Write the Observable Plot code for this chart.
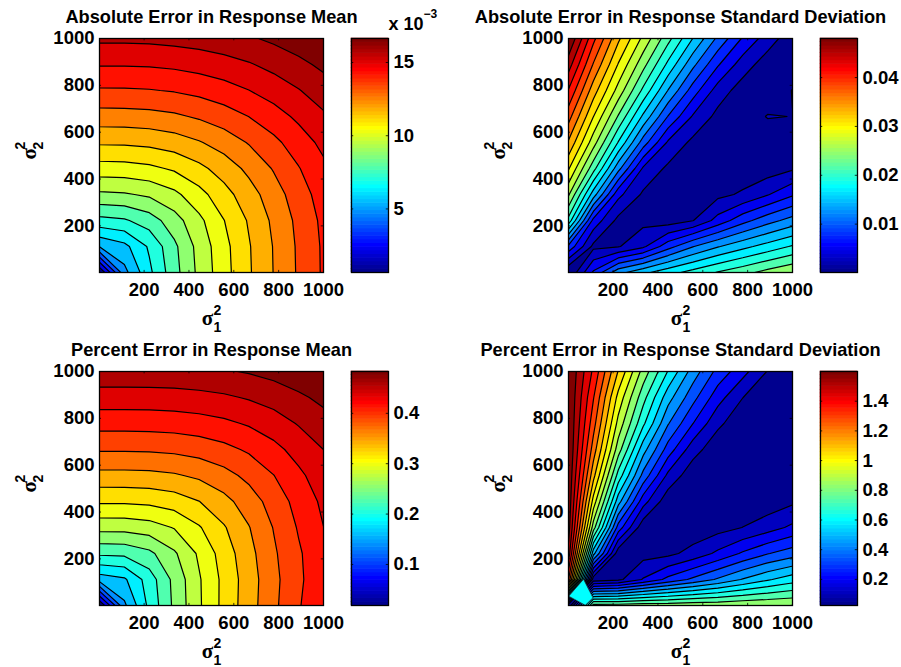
<!DOCTYPE html>
<html><head><meta charset="utf-8">
<script src="https://cdn.jsdelivr.net/npm/d3@7"></script>
<script src="https://cdn.jsdelivr.net/npm/@observablehq/plot@0.6"></script>
<style>
html,body{margin:0;padding:0;background:#fff}
#c{position:relative;width:901px;height:667px;overflow:hidden}
#c svg{position:absolute;overflow:visible;background:transparent}
</style></head><body><div id="c"></div>
<script>
const axisTicks = [200,400,600,800,1000];
const titles = ["Absolute Error in Response Mean","Absolute Error in Response Standard Deviation","Percent Error in Response Mean","Percent Error in Response Standard Deviation"];
// rows go from sigma2^2 = 1 up to 1000 in 10 steps, columns from sigma1^2 = 1 to 1000 in 10 steps
const absMean = [
[0.66,4.4,6.07,7.55,8.85,9.95,10.95,11.87,12.75,13.55],
[4.7,5.22,6.37,7.67,8.93,10.0,10.98,11.89,12.77,13.56],
[6.8,6.95,7.45,8.3,9.25,10.23,11.13,12.01,12.85,13.63],
[8.5,8.56,8.78,9.25,9.97,10.75,11.5,12.28,13.07,13.8],
[9.9,9.93,10.07,10.36,10.84,11.4,12.04,12.71,13.4,14.07],
[11.15,11.17,11.26,11.45,11.78,12.2,12.7,13.25,13.85,14.45],
[12.3,12.32,12.37,12.51,12.75,13.06,13.45,13.9,14.41,14.92],
[13.35,13.36,13.4,13.5,13.67,13.92,14.23,14.6,15.0,15.45],
[14.3,14.3,14.33,14.41,14.55,14.73,14.97,15.28,15.63,16.02],
[15.2,15.2,15.23,15.3,15.4,15.55,15.74,16.0,16.3,16.64]];
const absStd = [
[.0001,.0073,.013,.0155,.0175,.0192,.0208,.0222,.0237,.025],
[.0086,.0018,.0022,.0042,.0083,.0114,.0136,.0154,.017,.0186],
[.0198,.0062,.0017,.0017,.0012,.0023,.0055,.0084,.0106,.0124],
[.0255,.0149,.0053,.002,.0012,.0012,.0018,.0027,.0045,.0066],
[.03,.0215,.0123,.0043,.0019,.0012,.001,.001,.0012,.0021],
[.034,.0262,.0182,.0104,.0043,.0018,.0012,.001,.001,.0012],
[.0375,.0298,.0227,.0156,.0091,.0044,.0017,.0012,.0025,.00235],
[.041,.0331,.0266,.0201,.0137,.0081,.0036,.0013,.001,.00245],
[.0445,.0364,.0296,.0237,.0178,.0121,.0072,.0035,.0012,.0008],
[.048,.0395,.0325,.0269,.0214,.016,.011,.0067,.0035,.001]];
const pctMean = [
[.0185,.13,.1873,.2323,.2707,.3039,.3335,.3618,.388,.41],
[.145,.1542,.1924,.234,.2715,.3035,.3325,.3605,.3855,.4075],
[.2086,.2101,.2219,.2472,.2777,.3079,.336,.3634,.387,.408],
[.2587,.2591,.2635,.2753,.295,.3182,.3425,.368,.3923,.4131],
[.3005,.3007,.3027,.3086,.32,.3364,.3552,.3766,.3985,.418],
[.3366,.3368,.3377,.341,.348,.3588,.373,.3897,.4086,.4256],
[.3691,.3692,.3698,.3719,.3763,.3835,.3935,.4067,.4218,.4366],
[.3987,.3988,.3992,.4006,.4037,.4085,.4158,.4256,.4382,.4506],
[.426,.426,.4263,.4272,.4294,.433,.4386,.446,.4554,.4656],
[.4525,.4525,.4527,.4534,.455,.4577,.4616,.4674,.4751,.483]];
const pctStd = [
[.024,.81,.81,.82,.82,.83,.83,.84,.845,.85],
[1.3,.05,.08,.18,.27,.34,.41,.48,.54,.59],
[1.5,.5,.05,.07,.08,.125,.19,.26,.32,.365],
[1.56,.81,.29,.05,.04,.05,.07,.10,.14,.19],
[1.58,.97,.505,.205,.05,.04,.04,.045,.055,.085],
[1.59,1.10,.67,.375,.155,.05,.04,.04,.045,.055],
[1.6,1.19,.81,.505,.29,.13,.05,.04,.04,.045],
[1.6,1.255,.90,.64,.405,.25,.115,.05,.04,.04],
[1.6,1.305,.975,.727,.505,.35,.205,.10,.05,.04],
[1.6,1.36,1.07,.82,.62,.44,.30,.20,.095,.05]];
// flat saddle patch that the contouring left in the lowest-left cell of the last chart
const saddlePatch = [[2,41],[68,113],[110,34],[76,2],[2,41]];
const barTicks = [[5,10,15],[.01,.02,.03,.04],[.1,.2,.3,.4],[.2,.4,.6,.8,1,1.2,1.4]];
const barRange = [[.66,16.64],[.0001,.048],[.0185,.483],[.024,1.6]];

const FONT = '"Liberation Sans", Arial, Helvetica, sans-serif';
function jet(t){
  const i = Math.min(63, Math.max(0, Math.floor(t*64)));
  const u = (i+1)/64, c = v => Math.round(255*Math.max(0,Math.min(1,v)));
  return `rgb(${c(1.5-Math.abs(4*u-3))},${c(1.5-Math.abs(4*u-2))},${c(1.5-Math.abs(4*u-1))})`;
}
const root = document.getElementById("c");
function place(svg,left,top){ svg.style.left=left+"px"; svg.style.top=top+"px"; root.appendChild(svg); }
const txt = {fontFamily:FONT,fontWeight:"bold",fill:"black"};
const sym = {fontFamily:'"Liberation Serif", serif',fontWeight:"bold",fill:"black"};

function panel(i,left,top){
  const grid = [absMean,absStd,pctMean,pctStd][i], [lo,hi] = barRange[i];
  const mirror = i===1||i===3;
  const step = (hi-lo)/(mirror?21:20);
  const thresholds = mirror ? d3.range(21).map(k=>lo+k*step) : [lo-step, ...d3.range(1,20).map(k=>lo+k*step)];
  const colorDomain = mirror ? [lo,lo+20*step] : [lo-step,lo+19*step];
  const tx = 10;
  const values = mirror ? grid.map(r=>[...r].reverse()).flat() : grid.flat();
  const marks = [
    Plot.contour(values,{width:10,height:10,x1:mirror?1055.5:-54.5,x2:mirror?-54.5:1055.5,y1:-54.5,y2:1055.5,
      fill:Plot.identity,stroke:"black",strokeWidth:1.2,thresholds,clip:true}),
  ];
  if(i===3) marks.push(Plot.line(saddlePatch,{x:d=>d[0],y:d=>d[1],fill:jet(.36),stroke:"#222",strokeWidth:.6,clip:true}));
  marks.push(
    Plot.ruleX(axisTicks,{x:d=>d,y1:1,y2:tx,stroke:"black",strokeWidth:.8}),
    Plot.ruleX(axisTicks,{x:d=>d,y1:1000-tx,y2:1000,stroke:"black",strokeWidth:.8}),
    Plot.ruleY(axisTicks,{y:d=>d,x1:1,x2:tx,stroke:"black",strokeWidth:.8}),
    Plot.ruleY(axisTicks,{y:d=>d,x1:1000-tx,x2:1000,stroke:"black",strokeWidth:.8}),
    Plot.frame({stroke:"black",strokeWidth:1.3}),
    Plot.axisX(axisTicks,{anchor:"bottom",tickSize:0,tickPadding:10,tickFormat:"d",label:null,fontSize:18.5,...txt}),
    Plot.axisY(axisTicks,{anchor:"left",tickSize:0,tickPadding:5,tickFormat:"d",label:null,fontSize:18.5,...txt}),
    Plot.text([titles[i]],{frameAnchor:"top",lineAnchor:"middle",dy:-21,fontSize:18.2,...txt}),
    Plot.text(["σ"],{frameAnchor:"bottom",lineAnchor:"middle",dy:46,dx:-4,fontSize:21,...sym}),
    Plot.text(["2"],{frameAnchor:"bottom",lineAnchor:"middle",dy:38,dx:6,fontSize:14,...txt}),
    Plot.text(["1"],{frameAnchor:"bottom",lineAnchor:"middle",dy:55,dx:6,fontSize:14,...txt}),
    Plot.text(["σ"],{frameAnchor:"left",lineAnchor:"middle",dx:-70,dy:4,rotate:-90,fontSize:21,...sym}),
    Plot.text(["2"],{frameAnchor:"left",lineAnchor:"middle",dx:-79,dy:-6,rotate:-90,fontSize:14,...txt}),
    Plot.text(["2"],{frameAnchor:"left",lineAnchor:"middle",dx:-61,dy:-6,rotate:-90,fontSize:14,...txt})
  );
  const svg = Plot.plot({width:345,height:335,marginLeft:99,marginRight:22,marginTop:38,marginBottom:63,
    x:{domain:[1,1000]},y:{domain:[1,1000]},
    color:{type:"linear",domain:colorDomain,interpolate:jet,clamp:true},
    style:{background:"transparent"},marks});
  place(svg,left,top);
}
function bar(i,left,top){
  const [lo,hi] = barRange[i], step=(hi-lo)/64, ticks=barTicks[i];
  const cells = d3.range(64);
  const marks = [
    Plot.rect(cells,{x1:0,x2:1,y1:k=>lo+k*step,y2:k=>lo+(k+1)*step,fill:k=>jet((k+.5)/64),inset:-0.3}),
    Plot.ruleY(ticks,{y:d=>d,x1:0,x2:.06,stroke:"black",strokeWidth:.8}),
    Plot.ruleY(ticks,{y:d=>d,x1:.94,x2:1,stroke:"black",strokeWidth:.8}),
    Plot.frame({stroke:"black",strokeWidth:1.3}),
    Plot.axisY(ticks,{anchor:"right",tickSize:0,tickPadding:5,tickFormat:d=>String(d),label:null,fontSize:18.5,...txt})
  ];
  if(i===0) marks.push(
    Plot.text(["x 10"],{frameAnchor:"top-left",lineAnchor:"middle",textAnchor:"start",dx:37,dy:-14,fontSize:18,...txt}),
    Plot.text(["−3"],{frameAnchor:"top-left",lineAnchor:"middle",textAnchor:"start",dx:72,dy:-24,fontSize:12,...txt})
  );
  const svg = Plot.plot({width:120,height:335,marginLeft:10,marginRight:73,marginTop:38,marginBottom:63,
    x:{domain:[0,1],axis:null},y:{domain:[lo,hi]},
    style:{background:"transparent"},marks});
  place(svg,left,top);
}
panel(0,0,0);   bar(0,341,0);
panel(1,469,0); bar(1,810,0);
panel(2,0,333); bar(2,341,333);
panel(3,469,333); bar(3,810,333);
</script></body></html>
